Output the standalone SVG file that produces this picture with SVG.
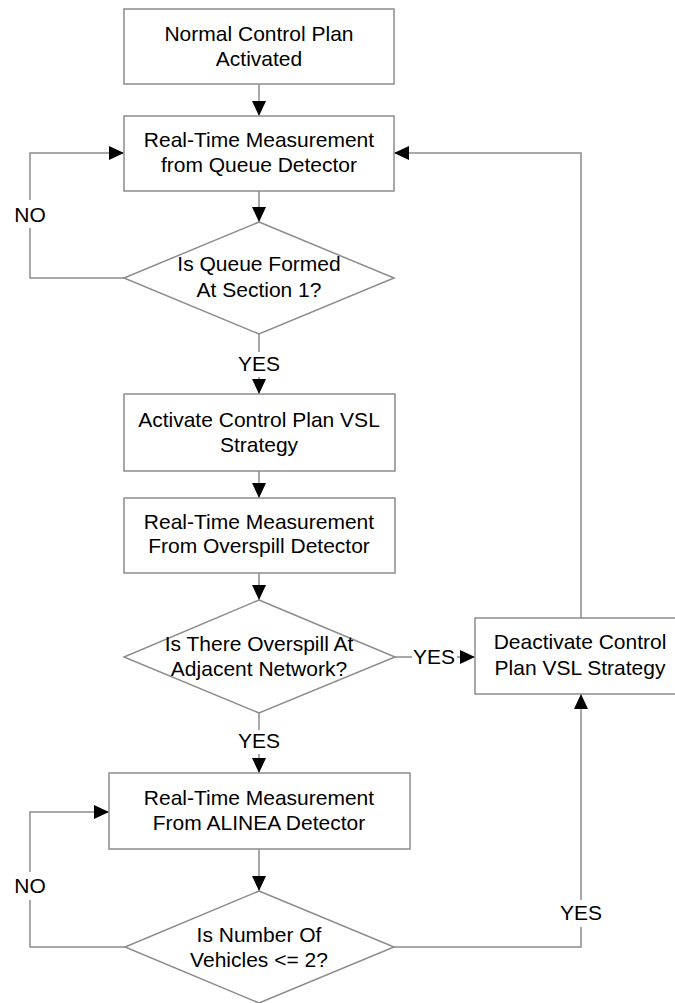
<svg xmlns="http://www.w3.org/2000/svg" width="675" height="1003" viewBox="0 0 675 1003">
<style>
.box{fill:#fff;stroke:#8c8c8c;stroke-width:1.5}
.ln{fill:none;stroke:#8c8c8c;stroke-width:1.5}
text{font-family:"Liberation Sans",Arial,sans-serif;font-size:21px;fill:#000;text-anchor:middle}
</style>
<defs>
<marker id="ah" markerUnits="userSpaceOnUse" markerWidth="15" markerHeight="14" refX="15" refY="7" orient="auto">
<path d="M0,0 L15,7 L0,14 Z" fill="#000"/>
</marker>
</defs>
<rect width="675" height="1003" fill="#fff"/>
<g id="connectors">
<path class="ln" d="M259,84 V116" marker-end="url(#ah)"/>
<path class="ln" d="M259,191 V222" marker-end="url(#ah)"/>
<path class="ln" d="M124,278 H30 V228"/>
<path class="ln" d="M30,200 V153 H124" marker-end="url(#ah)"/>
<path class="ln" d="M259,334 V352"/>
<path class="ln" d="M259,377 V394" marker-end="url(#ah)"/>
<path class="ln" d="M259,471 V498" marker-end="url(#ah)"/>
<path class="ln" d="M259,573 V600" marker-end="url(#ah)"/>
<path class="ln" d="M395,657 H412"/>
<path class="ln" d="M457,657 H475" marker-end="url(#ah)"/>
<path class="ln" d="M259,713 V730"/>
<path class="ln" d="M259,754 V773" marker-end="url(#ah)"/>
<path class="ln" d="M259,849 V891" marker-end="url(#ah)"/>
<path class="ln" d="M125,947 H30 V900"/>
<path class="ln" d="M30,872 V812 H109" marker-end="url(#ah)"/>
<path class="ln" d="M394,947 H581 V927"/>
<path class="ln" d="M581,900 V694" marker-end="url(#ah)"/>
<path class="ln" d="M581,618 V153 H394" marker-end="url(#ah)"/>
<text x="30" y="222">NO</text>
<text x="259" y="371">YES</text>
<text x="434" y="664">YES</text>
<text x="259" y="748">YES</text>
<text x="30" y="893">NO</text>
<text x="581" y="920">YES</text>
</g>
<g id="n1">
<rect class="box" x="124" y="9" width="270" height="75"/>
<text x="259" y="41">Normal Control Plan</text>
<text x="259" y="66">Activated</text>
</g>
<g id="n2">
<rect class="box" x="124" y="116" width="270" height="75"/>
<text x="259" y="147">Real-Time Measurement</text>
<text x="259" y="172">from Queue Detector</text>
</g>
<g id="d1">
<polygon class="box" points="259,222 394,278 259,334 124,278"/>
<text x="259" y="271">Is Queue Formed</text>
<text x="259" y="297">At Section 1?</text>
</g>
<g id="n3">
<rect class="box" x="124" y="394" width="271" height="77"/>
<text x="259" y="427">Activate Control Plan VSL</text>
<text x="259" y="452">Strategy</text>
</g>
<g id="n4">
<rect class="box" x="124" y="498" width="271" height="75"/>
<text x="259" y="529">Real-Time Measurement</text>
<text x="259" y="553">From Overspill Detector</text>
</g>
<g id="d2">
<polygon class="box" points="259,600 395,657 259,713 124,657"/>
<text x="259" y="651">Is There Overspill At</text>
<text x="259" y="676">Adjacent Network?</text>
</g>
<g id="n5">
<rect class="box" x="475" y="618" width="215" height="76"/>
<text x="580" y="649">Deactivate Control</text>
<text x="580" y="675">Plan VSL Strategy</text>
</g>
<g id="n6">
<rect class="box" x="109" y="773" width="301" height="76"/>
<text x="259" y="805">Real-Time Measurement</text>
<text x="259" y="830">From ALINEA Detector</text>
</g>
<g id="d3">
<polygon class="box" points="259,891 394,947 259,1003 125,947"/>
<text x="259" y="942">Is Number Of</text>
<text x="259" y="967">Vehicles &lt;= 2?</text>
</g>
</svg>
